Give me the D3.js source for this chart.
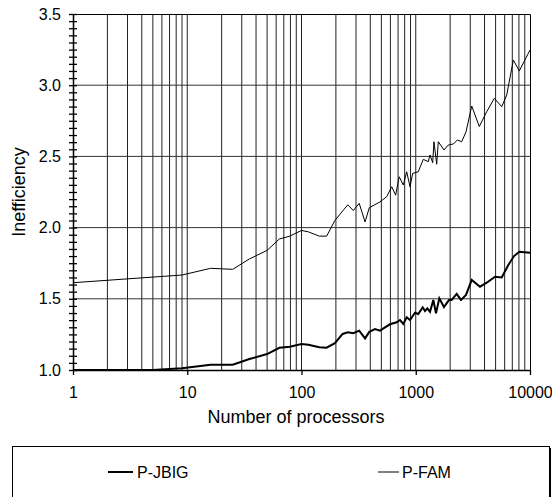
<!DOCTYPE html>
<html>
<head>
<meta charset="utf-8">
<script src="https://cdn.jsdelivr.net/npm/d3@7"></script>
<style>
	body { margin: 0; background: #fff; }
	svg { display: block; font-family: Arial, "Liberation Sans", sans-serif; }
</style>
</head>
<body>
<svg id="chart" width="552" height="497"></svg>
<script>

// data
var aFamN   = [1, 9, 16, 25, 35, 50, 64, 79, 100, 115, 143, 166, 196, 254, 284, 320, 360, 392, 486, 557, 616, 667, 717, 778, 833, 891, 940, 1052, 1164, 1288, 1333, 1407, 1444, 1525, 1575, 1766, 1927, 2133, 2311, 2525, 2754, 3090, 3600, 4180, 4872, 5656, 6253, 7145, 8060, 10000];
var aFamVal = [1.613, 1.667, 1.714, 1.707, 1.78, 1.84, 1.92, 1.94, 1.98, 1.97, 1.94, 1.94, 2.05, 2.16, 2.12, 2.17, 2.04, 2.14, 2.18, 2.217, 2.287, 2.228, 2.357, 2.299, 2.392, 2.287, 2.381, 2.392, 2.479, 2.463, 2.51, 2.456, 2.603, 2.445, 2.603, 2.545, 2.58, 2.587, 2.615, 2.603, 2.673, 2.854, 2.71, 2.814, 2.908, 2.849, 2.93, 3.177, 3.1, 3.247];

var aJbigN   = [1, 5, 9, 16, 25, 35, 50, 64, 79, 100, 115, 143, 166, 196, 229, 254, 284, 320, 360, 392, 440, 486, 505, 595, 681, 728, 778, 833, 891, 985, 1052, 1150, 1205, 1262, 1333, 1425, 1504, 1608, 1766, 1954, 2063, 2281, 2489, 2754, 3090, 3650, 4180, 4940, 5656, 6460, 7245, 8060, 10000];
var aJbigVal = [1.0, 1.0, 1.012, 1.037, 1.037, 1.077, 1.112, 1.156, 1.163, 1.183, 1.178, 1.16, 1.157, 1.188, 1.253, 1.265, 1.258, 1.276, 1.222, 1.268, 1.287, 1.276, 1.285, 1.321, 1.335, 1.351, 1.323, 1.37, 1.351, 1.402, 1.393, 1.44, 1.414, 1.433, 1.409, 1.492, 1.398, 1.503, 1.442, 1.492, 1.492, 1.534, 1.492, 1.527, 1.632, 1.585, 1.613, 1.655, 1.65, 1.737, 1.8, 1.83, 1.823];

var aYLabels = [1.0, 1.5, 2.0, 2.5, 3.0, 3.5];
var aXLabels = [1, 10, 100, 1000, 10000];
var aSeriesNames = ['P-JBIG', 'P-FAM'];

var strFont = 'Arial, "Liberation Sans", sans-serif';
var sSvg = d3.select('#chart');

var nLeft = 73, nRight = 530, nTop = 14, nBottom = 370;

var scaleX = d3.scaleLog()
	.domain([1, 10000])
	.range([nLeft, nRight]);

var scaleY = d3.scaleLinear()
	.domain([1.0, 3.5])
	.range([nBottom, nTop]);

// vertical grid: 2..9 of each decade
var aGridX = [];
for (var d = 1; d < 10000; d *= 10)
{
	for (var k = 2; k <= 9; k++) aGridX.push(d*k);
	if (d*10 < 10000) aGridX.push(d*10);
}

sSvg.append('g')
	.selectAll('line')
	.data(aGridX)
	.enter()
		.append('line')
			.attr('x1', function(v) { return scaleX(v); })
			.attr('x2', function(v) { return scaleX(v); })
			.attr('y1', nTop)
			.attr('y2', nBottom)
			.attr('stroke', '#222')
			.attr('stroke-width', 1);

sSvg.append('g')
	.selectAll('line')
	.data(aYLabels.slice(1, 5))
	.enter()
		.append('line')
			.attr('x1', nLeft)
			.attr('x2', nRight)
			.attr('y1', function(v) { return scaleY(v); })
			.attr('y2', function(v) { return scaleY(v); })
			.attr('stroke', '#333')
			.attr('stroke-width', 1);

// frame top + right
sSvg.append('path')
	.attr('d', 'M' + nLeft + ',' + (nTop+0.5) + 'H' + (nRight+0.5) + 'V' + nBottom)
	.attr('fill', 'none')
	.attr('stroke', '#000')
	.attr('stroke-width', 1);

// y axis minor ticks crossing the axis
var aMinorY = d3.range(0, 51).map(function(i) { return 1.0 + i*0.05; });

sSvg.append('g')
	.attr('transform', 'translate(' + nLeft + ',0)')
	.call(d3.axisLeft(scaleY).tickValues(aMinorY).tickSize(4).tickSizeOuter(0).tickFormat(''))
	.call(function(g) { g.selectAll('line').attr('stroke-width', 1.3); });

sSvg.append('g')
	.attr('transform', 'translate(' + nLeft + ',0)')
	.call(d3.axisRight(scaleY).tickValues(aMinorY).tickSize(4).tickSizeOuter(0).tickFormat(''))
	.call(function(g) { g.selectAll('line').attr('stroke-width', 1.3); g.select('.domain').attr('stroke-width', 1.5); });

sSvg.append('g')
	.attr('transform', 'translate(' + nLeft + ',0)')
	.call(d3.axisLeft(scaleY).tickValues(aYLabels).tickSize(0).tickPadding(12).tickFormat(d3.format('.1f')))
	.call(function(g)
		{
			g.select('.domain').remove();
			g.selectAll('text').attr('font-size', 16).attr('fill', '#000').attr('font-family', strFont);
		});

// x axis
sSvg.append('g')
	.attr('transform', 'translate(0,' + nBottom + ')')
	.call(d3.axisBottom(scaleX).tickValues(aXLabels).tickSize(5).tickSizeOuter(0).tickFormat(d3.format('d')))
	.call(function(g)
		{
			g.select('.domain').attr('stroke-width', 1.5);
			g.selectAll('line').attr('stroke-width', 1.3);
			g.selectAll('text')
				.attr('y', 28)
				.attr('dy', null)
				.attr('font-size', 16)
				.attr('fill', '#000')
				.attr('font-family', strFont);
		});

// series
var lineGen = d3.line()
	.x(function(p) { return scaleX(p[0]); })
	.y(function(p) { return scaleY(p[1]); });

sSvg.append('path')
	.datum(d3.zip(aFamN, aFamVal))
	.attr('d', lineGen)
	.attr('fill', 'none')
	.attr('stroke', '#000')
	.attr('stroke-width', 1);

sSvg.append('path')
	.datum(d3.zip(aJbigN, aJbigVal))
	.attr('d', lineGen)
	.attr('fill', 'none')
	.attr('stroke', '#000')
	.attr('stroke-width', 2);

// titles
sSvg.append('text')
	.attr('x', 296)
	.attr('y', 423)
	.attr('text-anchor', 'middle')
	.attr('font-size', 18)
	.text('Number of processors');

sSvg.append('text')
	.attr('transform', 'translate(25,192) rotate(-90)')
	.attr('text-anchor', 'middle')
	.attr('font-size', 18)
	.text('Inefficiency');

// legend
sSvg.append('rect')
	.attr('x', 12.5)
	.attr('y', 446.5)
	.attr('width', 537)
	.attr('height', 70)
	.attr('fill', '#fff')
	.attr('stroke', '#000')
	.attr('stroke-width', 1);

sSvg.append('line')
	.attr('x1', 550)
	.attr('x2', 550)
	.attr('y1', 448)
	.attr('y2', 497)
	.attr('stroke', '#000')
	.attr('stroke-width', 2);

var aLegendX = [108, 378];
var aLegendW = [2, 1];

var sLegend = sSvg.selectAll('.legend-item')
	.data(aSeriesNames)
	.enter()
		.append('g')
			.attr('class', 'legend-item')
			.attr('transform', function(s, i) { return 'translate(' + aLegendX[i] + ',472)'; });

sLegend.append('line')
	.attr('x1', 0)
	.attr('x2', function(s, i) { return i == 0 ? 25 : 21; })
	.attr('stroke', '#000')
	.attr('stroke-width', function(s, i) { return aLegendW[i]; });

sLegend.append('text')
	.attr('x', function(s, i) { return i == 0 ? 29 : 24; })
	.attr('y', 5.5)
	.attr('font-size', 16)
	.text(function(s) { return s; });

</script>
</body>
</html>
